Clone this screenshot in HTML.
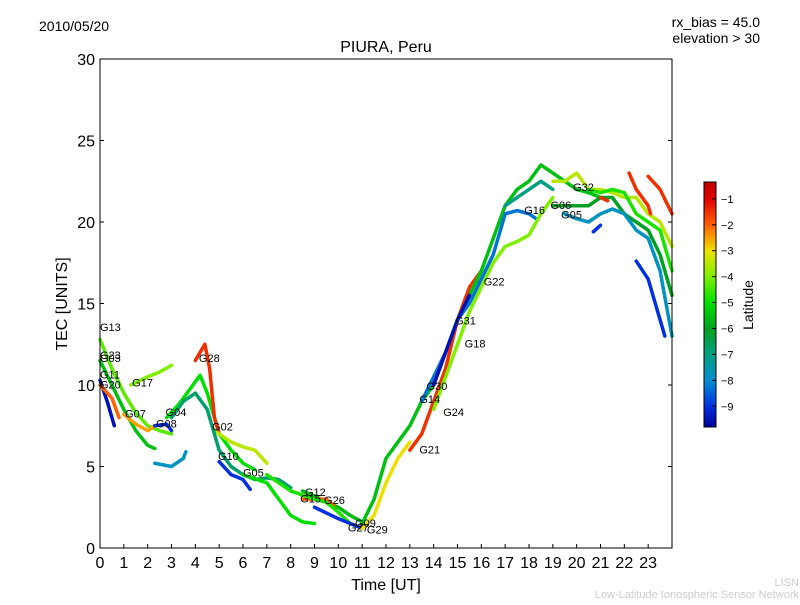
<!DOCTYPE html>
<html><head><meta charset="utf-8"><style>
body{margin:0;background:#fff;font-family:"Liberation Sans",sans-serif}
svg text{font-family:"Liberation Sans",sans-serif}
</style></head><body>
<svg id="chart" width="800" height="600">
<text x="39" y="31" font-size="14">2010/05/20</text>
<text x="760" y="27" font-size="14" text-anchor="end">rx_bias = 45.0</text>
<text x="760" y="43" font-size="14" text-anchor="end">elevation &gt; 30</text>
<text x="386" y="52" font-size="16" text-anchor="middle">PIURA, Peru</text>
<text x="386" y="590" font-size="16" text-anchor="middle">Time [UT]</text>
<text x="0" y="0" font-size="16" text-anchor="middle" transform="translate(67,304) rotate(-90)">TEC [UNITS]</text>
<g id="plot"></g>
<g id="ticks"></g>
<rect x="100" y="59" width="572" height="489" fill="none" stroke="#000" stroke-width="1"/>
<defs><linearGradient id="jet" x1="0" y1="1" x2="0" y2="0">
<stop offset="0" stop-color="#00009a"/><stop offset="0.085" stop-color="#0030e0"/><stop offset="0.19" stop-color="#0090d0"/><stop offset="0.296" stop-color="#00a080"/><stop offset="0.402" stop-color="#00a020"/><stop offset="0.508" stop-color="#00e000"/><stop offset="0.614" stop-color="#80f000"/><stop offset="0.72" stop-color="#f0e000"/><stop offset="0.825" stop-color="#ff6000"/><stop offset="0.931" stop-color="#e00000"/><stop offset="1" stop-color="#c00000"/></linearGradient></defs>
<rect x="704" y="182" width="12" height="245" fill="url(#jet)" stroke="#000"/>
<g id="cbticks"></g>
<text x="0" y="0" font-size="14" text-anchor="middle" transform="translate(753,305) rotate(-90)">Latitude</text>
<text x="799" y="586" font-size="11" fill="#ccc" text-anchor="end">LISN</text>
<text x="799" y="598" font-size="11" fill="#ccc" text-anchor="end">Low-Latitude Ionospheric Sensor Network</text>
</svg>
<script>
const xTicks=[0,1,2,3,4,5,6,7,8,9,10,11,12,13,14,15,16,17,18,19,20,21,22,23];
const yTicks=[0,5,10,15,20,25,30];
const cbTicks=[-1,-2,-3,-4,-5,-6,-7,-8,-9];
const trackLat=[-4.3,-5.5,-9.5,-2,-4,-2.5,-9,-5.0,-1.5,-3.5,-7.8,-6.8,-9,-5.0,-5.6,-2,-4.8,-9,-3,-1.5,-5.5,-8.3,-9.5,-4,-7.0,-3.5,-6,-7.8,-1.5,-1.5,-1.5,-9,-9,-4.8];
const trackPts=[
[[0,12.8],[0.5,11],[1,9.5],[1.5,8.3],[2,7.5],[2.5,7.2],[3,7.0]],
[[0,11.5],[0.5,10],[1,8.5],[1.5,7.2],[2,6.3],[2.3,6.1]],
[[0,10.3],[0.3,9],[0.6,7.5]],
[[0,10],[0.5,9.2],[0.8,8]],
[[1.3,10],[2,10.5],[2.5,10.8],[3,11.2]],
[[1,8.2],[1.5,7.6],[2,7.2],[2.3,7.5]],
[[2.3,7.5],[2.8,7.6],[3,7.2]],
[[2.8,8],[3.3,8.8],[3.8,9.8],[4.2,10.6],[4.5,9.5],[5,7],[5.5,6],[6,5.2],[6.5,4.8]],
[[4,11.5],[4.4,12.5],[4.6,11],[4.8,8],[5,7]],
[[4.8,7.2],[5.5,6.5],[6,6.2],[6.5,6],[7,5.2]],
[[2.3,5.2],[3,5],[3.5,5.5],[3.6,5.9]],
[[3,8],[3.5,9],[4,9.5],[4.5,8.5],[5,6],[5.5,5],[6,4.5],[6.5,4.2],[7,4.3],[7.5,4.2],[8,3.7]],
[[5,5.3],[5.5,4.5],[6,4.2],[6.3,3.6]],
[[6,4.5],[7,4],[7.5,3],[8,2],[8.5,1.6],[9,1.5]],
[[8.5,3.5],[9,3.2],[9.5,2.8],[10,2.5],[10.5,2],[11,1.6]],
[[8.5,3],[9,3],[9.5,3],[9.8,2.6]],
[[7,4.5],[8,3.5],[9,3],[9.5,2.8],[10,2.2],[10.5,1.5],[11,1.2]],
[[9,2.5],[10,1.8],[10.5,1.5],[11,1.2]],
[[11,1.2],[11.5,2],[12,4],[12.5,5.5],[13,6.5]],
[[13,6],[13.5,7],[14,9],[14.5,11],[15,14],[15.5,16],[16,17]],
[[11,1.5],[11.5,3],[12,5.5],[12.5,6.5],[13,7.5],[13.5,9],[14,10],[14.5,12],[15,14],[15.5,15.5],[16,17],[16.5,19],[17,21],[17.5,22],[18,22.5],[18.5,23.5],[19,23],[19.5,22.5],[20,22],[20.5,21.8],[21,21.5]],
[[13.5,9],[14,10.5],[14.5,12],[15,14],[15.5,15],[16,16.5],[16.5,18],[17,20.5],[17.5,20.7],[18,20.5],[18.3,20.2]],
[[14,10],[14.5,12],[15,14],[15.5,15.5]],
[[14,8.5],[14.5,10.5],[15,12.5],[15.5,14.5],[16,16],[16.5,17.5],[17,18.5],[17.5,18.8],[18,19.2],[18.5,20.5],[19,21.5]],
[[17,21],[17.5,21.5],[18,22],[18.5,22.5],[19,22]],
[[19,22.5],[19.5,22.5],[20,23],[20.5,22],[21,22],[21.5,21.8],[22,21.5],[22.5,21.5],[23,20.5],[23.5,20],[24,18.5]],
[[19,21],[19.5,21],[20,21],[20.5,21],[21,21.5],[21.5,21.5],[22,20.5],[22.5,20],[23,19.5],[23.5,18],[24,15.5]],
[[19.5,20.5],[20,20.2],[20.5,20],[21,20.5],[21.5,20.8],[22,20.5],[22.5,19.5],[23,19],[23.5,17],[24,13]],
[[21,21.5],[21.3,21.3]],
[[22.2,23],[22.5,22],[23,21],[23.1,20.5]],
[[23,22.8],[23.5,22],[24,20.5]],
[[20.7,19.4],[21,19.8]],
[[22.5,17.6],[23,16.5],[23.3,15],[23.7,13]],
[[20.5,22],[21,21.8],[21.5,22],[22,21.8],[22.5,20.5],[23,20],[23.5,19.5],[24,17]]
];
const labelNames=["G13","G23","G03","G11","G20","G17","G07","G04","G08","G28","G02","G10","G05","G12","G15","G26","G09","G27","G29","G21","G14","G30","G24","G31","G18","G22","G16","G06","G05","G32"];
const labelT=[0,0,0,0,0,1.35,1.05,2.75,2.35,4.15,4.7,4.95,6,8.6,8.4,9.4,10.7,10.4,11.2,13.4,13.4,13.7,14.4,14.9,15.3,16.1,17.8,18.9,19.35,19.85];
const labelV=[13.3,11.6,11.4,10.4,9.8,9.9,8,8.1,7.4,11.4,7.2,5.4,4.4,3.2,2.8,2.7,1.3,1.0,0.9,5.8,8.9,9.7,8.1,13.7,12.3,16.1,20.5,20.8,20.2,21.9];
const NS='http://www.w3.org/2000/svg';
const X=t=>100+t*572/24, Y=v=>548-v*489/30;
const vmin=-9.8,vmax=-0.35;
const cmap=[[-9.8,[0,0,154]],[-9,[0,48,224]],[-8,[0,144,208]],[-7,[0,160,128]],[-6,[0,160,32]],[-5,[0,224,0]],[-4,[128,240,0]],[-3,[240,224,0]],[-2,[255,96,0]],[-1,[224,0,0]],[-0.35,[192,0,0]]];
function jet(l){l=Math.max(vmin,Math.min(vmax,l));
for(let i=0;i<cmap.length-1;i++){const a=cmap[i],b=cmap[i+1];if(l<=b[0]){const f=(l-a[0])/(b[0]-a[0]);
const c=a[1].map((v,k)=>Math.round(v+(b[1][k]-v)*f));return `rgb(${c[0]},${c[1]},${c[2]})`;}}
return 'rgb(192,0,0)';}
const plot=document.getElementById('plot');
trackPts.forEach((pts,i)=>{const p=document.createElementNS(NS,'polyline');
p.setAttribute('points',pts.map(q=>X(q[0])+','+Y(q[1])).join(' '));
p.setAttribute('fill','none');p.setAttribute('stroke',jet(trackLat[i]));p.setAttribute('stroke-width','3.5');
p.setAttribute('stroke-linejoin','round');p.setAttribute('stroke-linecap','round');


plot.appendChild(p);});
labelNames.forEach((n,i)=>{const t=document.createElementNS(NS,'text');
t.setAttribute('x',X(labelT[i]));t.setAttribute('y',Y(labelV[i]));t.setAttribute('font-size','11');t.textContent=n;


plot.appendChild(t);});
const tk=document.getElementById('ticks');
function add(g,tag,a,txt){const e=document.createElementNS(NS,tag);for(const k in a)e.setAttribute(k,a[k]);if(txt!==undefined)e.textContent=txt;g.appendChild(e);return e;}
xTicks.forEach(t=>{const e=add(tk,'line',{x1:X(t),x2:X(t),y1:548,y2:544,stroke:'#000'});


const l=add(tk,'text',{x:X(t),y:568,'font-size':16,'text-anchor':'middle'},t);

});
yTicks.forEach(v=>{const e=add(tk,'line',{x1:100,x2:104,y1:Y(v),y2:Y(v),stroke:'#000'});


add(tk,'line',{x1:672,x2:668,y1:Y(v),y2:Y(v),stroke:'#000'});
const l=add(tk,'text',{x:95,y:Y(v)+6,'font-size':16,'text-anchor':'end'},v);

});
const cb=document.getElementById('cbticks');
cbTicks.forEach(v=>{const y=427-(v-vmin)/(vmax-vmin)*245;
add(cb,'line',{x1:712,x2:716,y1:y,y2:y,stroke:'#000'});
const l=add(cb,'text',{x:721,y:y+4,'font-size':11},'\u2212'+Math.abs(v));

});
</script>
</body></html>
